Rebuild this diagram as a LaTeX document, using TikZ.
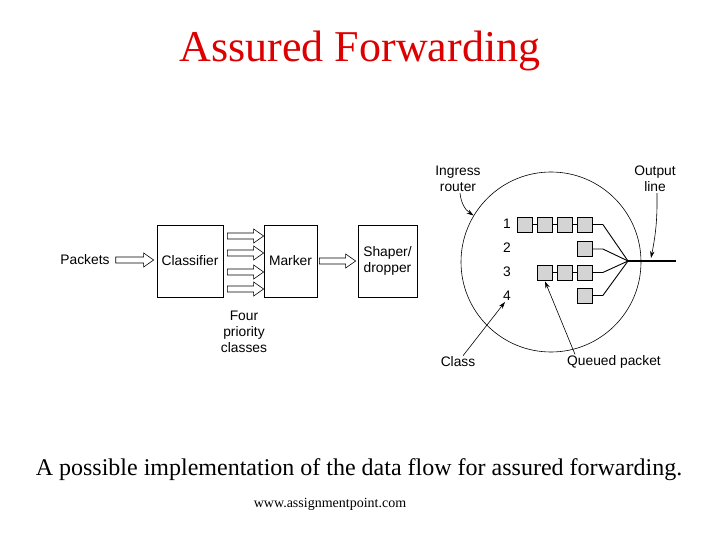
\documentclass[tikz,border=0pt]{standalone}
\usepackage{fontspec}
\setmainfont{Liberation Serif}
\newfontfamily\labelfont{Liberation Sans}
\usetikzlibrary{calc, arrows.meta}

\definecolor{titlered}{RGB}{220,0,0}
\definecolor{queuegray}{RGB}{212,212,212}

\tikzset{
  lbl/.style={font=\labelfont\fontsize{13.8}{16}\selectfont, align=center, inner sep=1pt},
  stage/.style={draw, line width=0.7pt, inner sep=0pt, align=center,
    minimum height=72pt, font=\labelfont\fontsize{13.8}{16}\selectfont},
  pkt/.style={draw, line width=0.7pt, fill=queuegray, minimum size=15pt, inner sep=0pt},
  harrow/.style={line width=0.6pt, fill=white,
    to path={let \p1=(\tikztostart), \p2=(\tikztotarget) in
      (\x1,\y1+3pt) -- (\x2-10pt,\y1+3pt) -- (\x2-10pt,\y1+7pt) -- (\x2,\y1)
      -- (\x2-10pt,\y1-7pt) -- (\x2-10pt,\y1-3pt) -- (\x1,\y1-3pt) -- cycle}},
  pointer/.style={line width=0.6pt, -{Stealth[length=7pt, width=4.5pt]}}
}

\begin{document}
\begin{tikzpicture}[x=1pt, y=-1pt]
  \useasboundingbox (0,0) rectangle (720,540);

  % headings
  \node (title) [text=titlered, font=\fontsize{44}{48}\selectfont] at (360,51) {Assured Forwarding};
  \node (caption) [font=\fontsize{24}{28}\selectfont] at (359,470) {A possible implementation of the data flow for assured forwarding.};
  \node (site) [font=\fontsize{14}{16}\selectfont] at (330,504) {www.assignmentpoint.com};

  % pipeline
  \node[lbl] (pk) at (85,260) {Packets};
  \node[stage, minimum width=66pt] (cl) at (190,261) {Classifier};
  \node[stage, minimum width=53pt] (mk) at (290.5,261) {Marker};
  \node[stage, minimum width=59pt] (sh) at (387.5,261) {Shaper/\\dropper};
  \node[lbl] (four) at (244,332) {Four\\priority\\classes};

  \draw[harrow] ([xshift=5pt]pk.east) to ([xshift=-3pt]cl.west);
  \foreach \dy in {25,8,-11,-28}
    \draw[harrow] ([xshift=4pt, yshift=\dy pt]cl.east) to ([yshift=\dy pt]mk.west);
  \draw[harrow] ([xshift=2pt]mk.east) to ([xshift=-2pt]sh.west);

  % router
  \node (router) [circle, draw, line width=0.6pt, minimum size=180pt, inner sep=0pt] at (551,262) {};

  \node[lbl] (c1) at (507,224) {1};
  \node[lbl] (c2) at (507,248) {2};
  \node[lbl] (c3) at (507,272) {3};
  \node[lbl] (c4) at (507,296) {4};

  \node[pkt] (q11) at (525,224.5) {};
  \node[pkt] (q12) at (545,224.5) {};
  \node[pkt] (q13) at (565,224.5) {};
  \node[pkt] (q14) at (585,224.5) {};
  \node[pkt] (q21) at (585,249) {};
  \node[pkt] (q31) at (545,272.5) {};
  \node[pkt] (q32) at (565,272.5) {};
  \node[pkt] (q33) at (585,272.5) {};
  \node[pkt] (q41) at (585,295.5) {};

  \draw[line width=0.7pt] (q11) -- (q12) -- (q13) -- (q14);
  \draw[line width=0.7pt] (q31) -- (q32) -- (q33);

  \coordinate (merge) at (628,261);
  \coordinate (out) at (676,261);
  \foreach \q in {q14,q21,q33,q41}
    \draw[line width=0.9pt] (\q.east) -- ++(10,0) -- (merge);
  \draw[line width=1.4pt] (merge) -- (out);

  % callouts
  \node[lbl] (ingress) at (458,179) {Ingress\\router};
  \node[lbl] (outlbl) at (655,179) {Output\\line};
  \node[lbl] (cls) at (458,362) {Class};
  \node[lbl] (qp) at (614,362) {Queued packet};
  \coordinate (tap) at (651,258);

  \draw[pointer] ([xshift=2pt]ingress.south) to[bend right=25] (router.149);
  \draw[pointer] ([xshift=2pt]outlbl.south) to[bend left=6] (tap);
  \draw[pointer] ([xshift=5pt]cls.north) -- ([xshift=-2pt]c4.south);
  \draw[pointer] ([xshift=9pt]qp.north west) -- ([yshift=-1pt]q31.south);
\end{tikzpicture}
\end{document}
